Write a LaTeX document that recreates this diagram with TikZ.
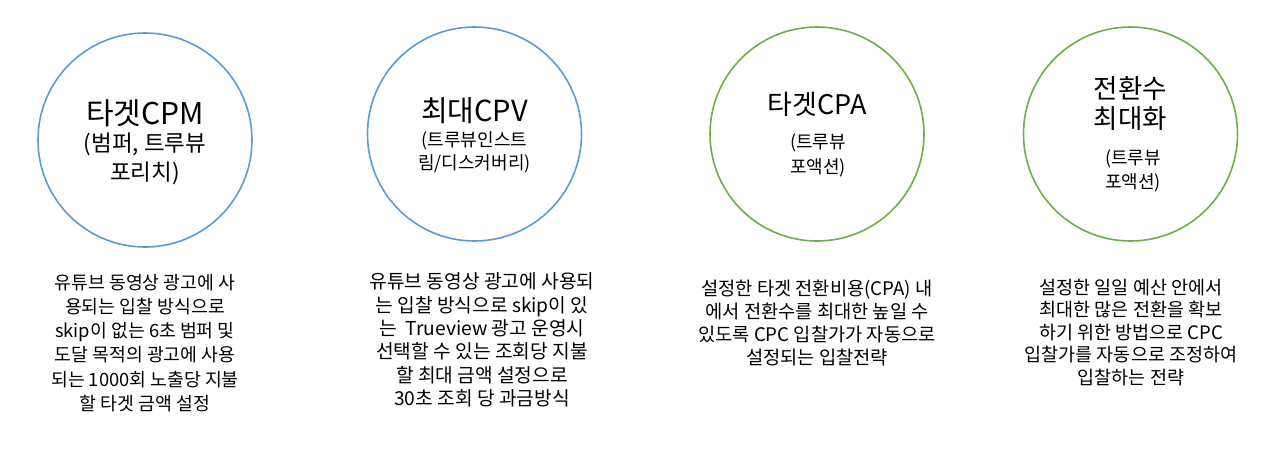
\documentclass[tikz,border=0pt]{standalone}
\usepackage{fontspec}
\setmainfont{Noto Sans CJK KR}
\usetikzlibrary{positioning}
\definecolor{adblue}{RGB}{91,155,213}
\definecolor{adgreen}{RGB}{112,173,71}

\begin{document}
\begin{tikzpicture}[x=1pt, y=-1pt,
        bidcircle/.style={circle, draw=#1, line width=1.6pt, minimum size=214pt, inner sep=0pt},
        circtitle/.style={align=center, inner sep=0pt, font=\fontsize{#1}{30}\selectfont},
        circsub/.style={align=center, inner sep=0pt, font=\fontsize{18}{#1}\selectfont},
        desctext/.style={align=center, inner sep=0pt},
    ]
    \useasboundingbox (0,0) rectangle (1263,456);

    % 타겟CPM
    \node[bidcircle=adblue] (cpm) at (145,140) {};
    \node[circtitle=30] (cpmT) at (145,113) {타겟CPM};
    \node[circsub=29, font=\fontsize{22.5}{29}\selectfont] (cpmS) at (145,158.5) {(범퍼, 트루뷰\\포리치)};
    \node[desctext, font=\fontsize{18.3}{24.2}\selectfont] (cpmD) at (145,343) {유튜브 동영상 광고에 사\\용되는 입찰 방식으로\\skip이 없는 6초 범퍼 및\\도달 목적의 광고에 사용\\되는 1000회 노출당 지불\\할 타겟 금액 설정};

    % 최대CPV
    \node[bidcircle=adblue] (cpv) at (474.5,134) {};
    \node[circtitle=29] (cpvT) at (474.5,111) {최대CPV};
    \node[circsub=23] (cpvS) at (474.5,152) {(트루뷰인스트\\림/디스커버리)};
    \node[desctext, font=\fontsize{19.2}{23.3}\selectfont] (cpvD) at (482,340) {유튜브 동영상 광고에 사용되\\는 입찰 방식으로 skip이 있\\는 \ Trueview 광고 운영시\\선택할 수 있는 조회당 지불\\할 최대 금액 설정으로\\30초 조회 당 과금방식};

    % 타겟CPA
    \node[bidcircle=adgreen] (cpa) at (817,134) {};
    \node[circtitle=27] (cpaT) at (817,104) {타겟CPA};
    \node[circsub=25] (cpaS) at (818,155) {(트루뷰\\포액션)};
    \node[desctext, font=\fontsize{18.7}{23}\selectfont] (cpaD) at (817,322.5) {설정한 타겟 전환비용(CPA) 내\\에서 전환수를 최대한 높일 수\\있도록 CPC 입찰가가 자동으로\\설정되는 입찰전략};

    % 전환수 최대화
    \node[bidcircle=adgreen] (conv) at (1130.5,134) {};
    \node[circtitle=26.5] (convT) at (1130.5,104) {전환수\\최대화};
    \node[circsub=24] (convS) at (1133,170.5) {(트루뷰\\포액션)};
    \node[desctext, font=\fontsize{18.5}{22.5}\selectfont] (convD) at (1131,332.5) {설정한 일일 예산 안에서\\최대한 많은 전환을 확보\\하기 위한 방법으로 CPC\\입찰가를 자동으로 조정하여\\입찰하는 전략};
\end{tikzpicture}
\end{document}
